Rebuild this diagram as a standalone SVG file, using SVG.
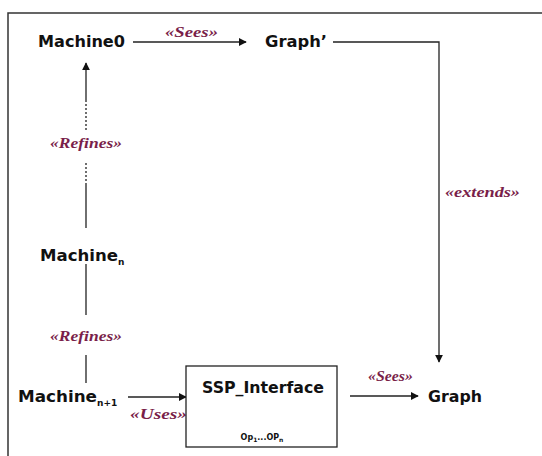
<svg xmlns="http://www.w3.org/2000/svg" width="542" height="456" viewBox="0 0 542 456">
<style>
.node{font-family:"DejaVu Sans","Liberation Sans",sans-serif;font-weight:bold;font-size:15px;fill:#111}
.sub{font-size:9px}
.lbl{font-family:"Liberation Serif","DejaVu Serif",serif;font-style:italic;font-weight:bold;font-size:14px;fill:#7a1f4a}
.ln{stroke:#222;stroke-width:1.3;fill:none}
.frame{stroke:#333;stroke-width:1.5;fill:none}
</style>
<defs>
<marker id="ah" viewBox="0 0 10 10" refX="9" refY="5" markerWidth="8" markerHeight="8" orient="auto" markerUnits="userSpaceOnUse">
<path d="M0,0 L10,5 L0,10 z" fill="#111"/>
</marker>
</defs>
<rect width="542" height="456" fill="#fff"/>
<path class="frame" d="M8,456 L8,13 L542,13"/>
<g id="connectors">
<path class="ln" d="M133,42 L246,42" marker-end="url(#ah)"/>
<text class="lbl" x="165" y="37" textLength="53" lengthAdjust="spacingAndGlyphs">«Sees»</text>
<path class="ln" d="M333,42 L439,42 L439,362" marker-end="url(#ah)"/>
<text class="lbl" x="445" y="197" textLength="75" lengthAdjust="spacingAndGlyphs">«extends»</text>
<path class="ln" d="M86,100 L86,63" marker-end="url(#ah)"/>
<path class="ln" d="M86,100 L86,130" stroke-dasharray="2 2"/>
<text class="lbl" x="50" y="148" textLength="72" lengthAdjust="spacingAndGlyphs">«Refines»</text>
<path class="ln" d="M86,163 L86,185" stroke-dasharray="2 2"/>
<path class="ln" d="M86,185 L86,228"/>
<path class="ln" d="M86,264 L86,315"/>
<text class="lbl" x="50" y="341" textLength="72" lengthAdjust="spacingAndGlyphs">«Refines»</text>
<path class="ln" d="M86,355 L86,383"/>
<path class="ln" d="M128,397 L186,397" marker-end="url(#ah)"/>
<text class="lbl" x="130" y="419" textLength="57" lengthAdjust="spacingAndGlyphs">«Uses»</text>
<path class="ln" d="M350,396 L418,396" marker-end="url(#ah)"/>
<text class="lbl" x="368" y="381" textLength="45" lengthAdjust="spacingAndGlyphs">«Sees»</text>
</g>
<g id="machine0"><text class="node" x="38" y="47" textLength="87" lengthAdjust="spacingAndGlyphs">Machine0</text></g>
<g id="graphprime"><text class="node" x="265" y="47" textLength="62" lengthAdjust="spacingAndGlyphs">Graph’</text></g>
<g id="machine_n"><text class="node" x="40" y="261"><tspan textLength="78" lengthAdjust="spacingAndGlyphs">Machine</tspan><tspan class="sub" dy="4">n</tspan></text></g>
<g id="machine_n1"><text class="node" x="18" y="402"><tspan textLength="79" lengthAdjust="spacingAndGlyphs">Machine</tspan><tspan class="sub" dy="4">n+1</tspan></text></g>
<g id="ssp">
<rect x="186" y="366" width="151" height="81" fill="#fff" stroke="#222" stroke-width="1.3"/>
<text class="node" x="202" y="393" textLength="122" lengthAdjust="spacingAndGlyphs">SSP_Interface</text>
<text class="node" x="262" y="440" text-anchor="middle" style="font-size:8px">Op<tspan style="font-size:6px" dy="2">1</tspan><tspan dy="-2">...OP</tspan><tspan style="font-size:6px" dy="2">n</tspan></text>
</g>
<g id="graph"><text class="node" x="428" y="402" textLength="54" lengthAdjust="spacingAndGlyphs">Graph</text></g>
</svg>
